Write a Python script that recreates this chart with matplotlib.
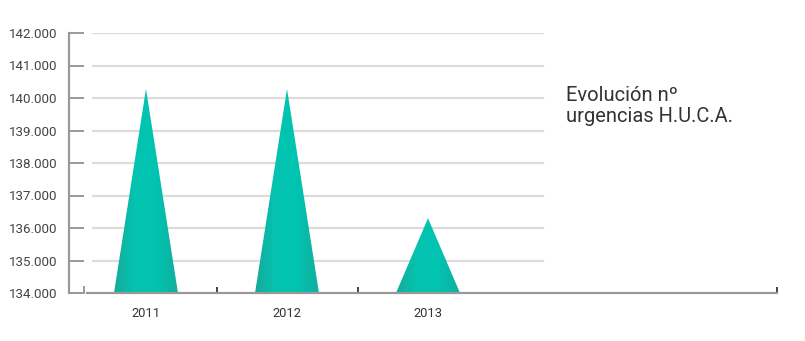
import numpy as np
import matplotlib
matplotlib.use('Agg')
import matplotlib.pyplot as plt
from matplotlib.patches import Polygon
from matplotlib.colors import LinearSegmentedColormap

plt.rcParams['font.family'] = ['Roboto', 'DejaVu Sans']

# data
years = ['2011', '2012', '2013']
urgencias = [140280, 140280, 136300]
y_ticks = [134000, 135000, 136000, 137000, 138000, 139000, 140000, 141000, 142000]

fig = plt.figure(figsize=(8.05, 3.41), dpi=100)
W, H = 805, 341
ax = fig.add_axes([69 / W, (H - 293) / H, (777 - 69) / W, (293 - 33) / H])

# category spacing is 141 px, first centre at 146 px
px = 141.0
xmin = -(146 - 69) / px
xmax = (777 - 146) / px

# grid lines (only across the left part)
g0 = (93 - 146) / px
g1 = (543 - 146) / px
for yv in y_ticks[1:]:
    ax.plot([g0, g1], [yv, yv], color='#dcdcdc', lw=1.6, zorder=1)

# teal triangles with a soft horizontal gradient
cmap = LinearSegmentedColormap.from_list(
    'teal', ['#16aa9a', '#04c4b1', '#00c3b0', '#12ae9e'])
grad = np.linspace(0, 1, 256).reshape(1, -1)
half = 32 / px
for i, v in enumerate(urgencias):
    tri = Polygon([[i - half, y_ticks[0]], [i, v], [i + half, y_ticks[0]]],
                  closed=True, facecolor='none', edgecolor='none')
    ax.add_patch(tri)
    im = ax.imshow(grad, cmap=cmap, aspect='auto', zorder=2,
                   extent=[i - half, i + half, y_ticks[0], v])
    im.set_clip_path(tri)
ax.set_xlim(xmin, xmax)
ax.set_ylim(y_ticks[0], y_ticks[-1])

# axes styling
for s in ['top', 'right', 'bottom']:
    ax.spines[s].set_visible(False)
ax.spines['left'].set_color('#999999')
ax.spines['left'].set_linewidth(1.6)

ax.set_yticks(y_ticks)
ax.set_yticklabels(['{:,}'.format(t).replace(',', '.') for t in y_ticks])
ax.tick_params(axis='y', direction='in', length=11, width=1.4, color='#999999',
               labelsize=9.6, labelcolor='#444444', pad=8)

# x axis: boundary ticks (black) and year labels at the centres
ax.set_xticks([0.5, 1.5, xmax])
ax.set_xticklabels([])
ax.set_xticks(range(len(years)), minor=True)
ax.set_xticklabels(years, minor=True)
ax.tick_params(axis='x', which='major', direction='in', length=4.5, width=1.2,
               color='#222222')
ax.tick_params(axis='x', which='minor', length=0, labelsize=9.3,
               labelcolor='#333333', pad=10)

# bottom axis line and small corner hook
x_start = (87 - 69) / (777 - 69)
x_hook = (84 - 69) / (777 - 69)
ax.plot([x_start, 1], [0, 0], transform=ax.transAxes, color='#999999',
        lw=1.6, clip_on=False, zorder=3)
ax.plot([0, x_hook, x_hook], [0, 0, 6 / 260], transform=ax.transAxes,
        color='#999999', lw=1.4, clip_on=False, zorder=3)

fig.text(566 / W, 1 - 86 / H, 'Evolución nº\nurgencias H.U.C.A.',
         fontsize=14.5, color='#333333', va='top', ha='left', linespacing=1.15)

fig.savefig('out.png', dpi=100)
